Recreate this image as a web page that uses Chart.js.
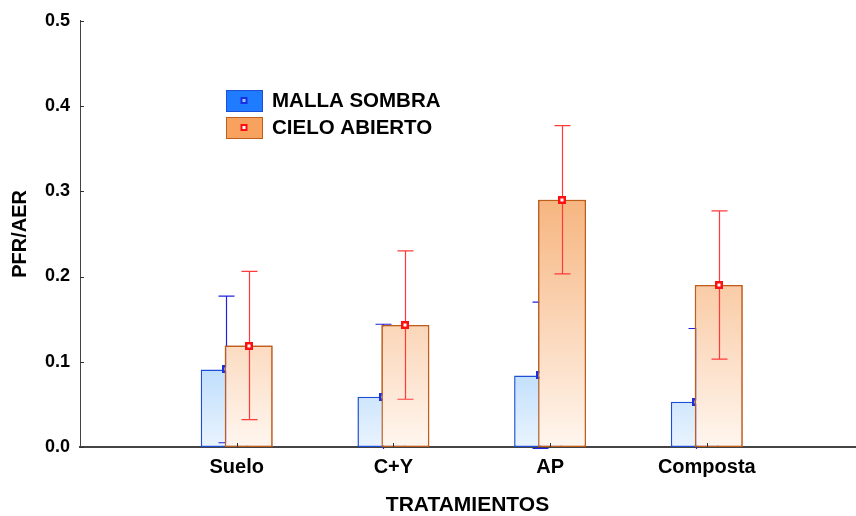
<!DOCTYPE html>
<html>
<head>
<meta charset="utf-8">
<script src="https://cdn.jsdelivr.net/npm/chart.js@4.4.1/dist/chart.umd.min.js"></script>
<style>
  html, body { margin: 0; padding: 0; background: #fff; }
  canvas { display: block; }
</style>
</head>
<body>
<canvas id="pfrChart" width="856" height="516"></canvas>
<script>
// data
const categories = ['Suelo', 'C+Y', 'AP', 'Composta'];
const mallaSombra = [0.091, 0.059, 0.084, 0.053];
const mallaSombraErr = [0.086, 0.085, 0.086, 0.086];
const cieloAbierto = [0.119, 0.143, 0.290, 0.190];
const cieloAbiertoErr = [0.087, 0.087, 0.087, 0.087];
const yTicks = [0, 0.1, 0.2, 0.3, 0.4, 0.5];

const FONT = '"Liberation Sans", Arial, sans-serif';

function gradientFill(stops) {
  return (c) => {
    const area = c.chart.chartArea;
    if (!area) return stops[0][1];
    const g = c.chart.ctx.createLinearGradient(0, area.bottom, 0, area.top);
    stops.forEach(s => g.addColorStop(s[0], s[1]));
    return g;
  };
}

function drawErrors(chart, index) {
  const ds = chart.data.datasets[index];
  const meta = chart.getDatasetMeta(index);
  const y = chart.scales.y;
  const area = chart.chartArea;
  const ctx = chart.ctx;
  const shift = ds.errShift || 0;
  ctx.save();
  ctx.beginPath();
  ctx.rect(area.left, area.top - 2, area.right - area.left, area.bottom - area.top + 4);
  ctx.clip();
  ctx.strokeStyle = ds.errColor;
  ctx.lineWidth = 1.2;
  meta.data.forEach((bar, i) => {
    const v = ds.data[i].y;
    const e = ds.errors[i];
    const x = Math.round(bar.x + shift) + 0.5;
    const top = y.getPixelForValue(v + e);
    const bot = y.getPixelForValue(v - e);
    ctx.beginPath();
    ctx.moveTo(x, top); ctx.lineTo(x, bot);
    ctx.moveTo(x - 8, top); ctx.lineTo(x + 8, top);
    ctx.moveTo(x - 8, bot); ctx.lineTo(x + 8, bot);
    ctx.stroke();
  });
  ctx.restore();
  ctx.save();
  meta.data.forEach((bar) => {
    const x = Math.round(bar.x + shift);
    const yy = Math.round(bar.y);
    ctx.fillStyle = ds.markColor;
    ctx.fillRect(x - 4, yy - 4, 8, 8);
    ctx.fillStyle = '#fff';
    ctx.fillRect(x - 1.5, yy - 1.5, 3, 3);
  });
  ctx.restore();
}

// blue errors, then the orange bars again on top, then orange errors
const errorBars = {
  id: 'errorBars',
  afterDatasetsDraw(chart) {
    drawErrors(chart, 0);
    const area = chart.chartArea;
    const ctx = chart.ctx;
    ctx.save();
    ctx.beginPath();
    ctx.rect(area.left, area.top, area.right - area.left, area.bottom - area.top);
    ctx.clip();
    chart.getDatasetMeta(1).controller.draw();
    ctx.restore();
    drawErrors(chart, 1);
  }
};

// inner tick marks and the legend box
const decorations = {
  id: 'decorations',
  afterDraw(chart) {
    const ctx = chart.ctx;
    const xs = chart.scales.x, ys = chart.scales.y;
    const area = chart.chartArea;
    ctx.save();
    ctx.strokeStyle = '#333';
    ctx.lineWidth = 1;
    ctx.beginPath();
    xs.ticks.forEach(t => {
      const px = Math.round(xs.getPixelForValue(t.value)) + 0.5;
      ctx.moveTo(px, area.bottom); ctx.lineTo(px, area.bottom - 4);
    });
    ys.ticks.forEach(t => {
      const py = Math.round(ys.getPixelForValue(t.value)) + 0.5;
      ctx.moveTo(area.left, py); ctx.lineTo(area.left + 4, py);
    });
    ctx.stroke();

    // legend
    chart.data.datasets.forEach((ds, i) => {
      const bx = 226, by = 90 + i * 27, bw = 36, bh = 21;
      ctx.fillStyle = ds.legendFill;
      ctx.fillRect(bx, by, bw, bh);
      ctx.strokeStyle = ds.borderColor;
      ctx.lineWidth = 1;
      ctx.strokeRect(bx + 0.5, by + 0.5, bw, bh);
      const cx = bx + bw / 2, cy = by + bh / 2;
      ctx.fillStyle = ds.markColor;
      ctx.fillRect(cx - 3.5, cy - 3.5, 7, 7);
      ctx.fillStyle = i === 0 ? '#9cc4ff' : '#fff';
      ctx.fillRect(cx - 1.5, cy - 1.5, 3, 3);
      ctx.fillStyle = '#000';
      ctx.font = 'bold 20.5px ' + FONT;
      ctx.textBaseline = 'middle';
      ctx.textAlign = 'left';
      ctx.fillText(ds.label, 272, cy + 1);
    });
    ctx.restore();
  }
};

const ctx = document.getElementById('pfrChart').getContext('2d');
new Chart(ctx, {
  type: 'bar',
  data: {
    datasets: [
      {
        label: 'MALLA SOMBRA',
        data: mallaSombra.map((v, i) => ({ x: i + 1, y: v })),
        errors: mallaSombraErr,
        backgroundColor: gradientFill([[0, '#e9f4fe'], [0.2, '#bcdcfc'], [1, '#3a8cf8']]),
        borderColor: '#1c4fd6',
        borderWidth: 1.5,
        borderSkipped: false,
        errColor: '#2222dd',
        errShift: 1.5,
        markColor: '#1a2fe0',
        legendFill: '#1f7bff'
      },
      {
        label: 'CIELO ABIERTO',
        data: cieloAbierto.map((v, i) => ({ x: i + 1, y: v })),
        errors: cieloAbiertoErr,
        backgroundColor: gradientFill([[0, '#fff6ef'], [0.6, '#f6b37c'], [1, '#f19a55']]),
        borderColor: '#bf5d1a',
        borderWidth: 1.5,
        borderSkipped: false,
        errColor: '#ff3a3a',
        markColor: '#ff1010',
        legendFill: '#f7a25e'
      }
    ]
  },
  options: {
    responsive: false,
    animation: false,
    categoryPercentage: 0.306,
    barPercentage: 2,
    layout: { padding: { top: 20, right: 1, left: 0, bottom: 0 } },
    plugins: { legend: { display: false }, tooltip: { enabled: false } },
    scales: {
      x: {
        type: 'linear',
        min: 0,
        max: 4.946,
        offset: false,
        grid: { display: false, drawTicks: false, offset: false },
        border: { display: true, color: '#444', width: 2 },
        afterBuildTicks: (s) => { s.ticks = categories.map((c, i) => ({ value: i + 1 })); },
        afterFit: (s) => { s.height = 69; },
        ticks: {
          padding: 8,
          color: '#000',
          font: { family: FONT, size: 20, weight: 'bold' },
          callback: (v) => categories[v - 1] || ''
        },
        title: {
          display: true,
          text: 'TRATAMIENTOS',
          color: '#000',
          padding: { top: 0, bottom: -2 },
          font: { family: FONT, size: 21, weight: 'bold' }
        }
      },
      y: {
        min: 0,
        max: 0.5,
        grid: { display: false, drawTicks: false },
        border: { display: true, color: '#444', width: 1 },
        afterBuildTicks: (s) => { s.ticks = yTicks.map(v => ({ value: v })); },
        afterFit: (s) => { s.width = 80; },
        ticks: {
          padding: 10,
          color: '#000',
          font: { family: FONT, size: 18, weight: 'bold' },
          callback: (v) => v.toFixed(1)
        },
        title: {
          display: true,
          text: 'PFR/AER',
          color: '#000',
          padding: { top: 8, bottom: 0 },
          font: { family: FONT, size: 20, weight: 'bold' }
        }
      }
    }
  },
  plugins: [errorBars, decorations]
});
</script>
</body>
</html>
